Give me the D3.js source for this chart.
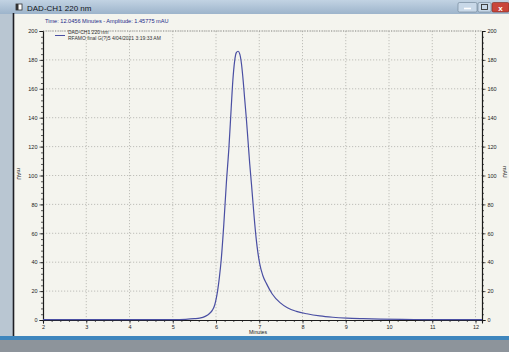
<!DOCTYPE html>
<html><head><meta charset="utf-8">
<script src="https://cdn.jsdelivr.net/npm/d3@7"></script>
<style>html,body{margin:0;padding:0;background:#c9d3dc;}svg{display:block;font-family:"Liberation Sans",Arial,sans-serif;}</style>
</head><body>
<svg id="c" width="509" height="352"></svg>
<script>
const times = [2.0, 3.0, 4.0, 5.0, 5.3, 5.5, 5.62, 5.75, 5.85, 5.92, 5.97, 6.04, 6.08, 6.12, 6.18, 6.24, 6.30, 6.35, 6.39, 6.43, 6.47, 6.51, 6.55, 6.59, 6.63, 6.66, 6.70, 6.74, 6.78, 6.82, 6.88, 6.93, 7.01, 7.08, 7.17, 7.3, 7.48, 7.65, 7.86, 8.1, 8.4, 8.7, 9.02, 9.4, 9.8, 10.3, 10.8, 11.3, 11.8, 12.15];
const absorb = [0.3, 0.2, 0.2, 0.3, 0.5, 0.9, 1.3, 2.5, 4.5, 7, 10.4, 20.8, 30, 41.5, 66, 95, 120, 146, 166, 179, 185, 186, 184, 177, 165, 154, 140, 124, 108, 94, 72, 56, 39, 31, 25, 18, 12, 8.5, 6, 4.3, 2.8, 1.9, 1.3, 0.9, 0.6, 0.4, 0.3, 0.25, 0.2, 0.2];
const xTicks = [2,3,4,5,6,7,8,9,10,11,12];
const yTicks = [0,20,40,60,80,100,120,140,160,180,200];
const windowTitle = "DAD-CH1  220 nm";
const statusText = "Time:  12.0456 Minutes - Amplitude:  1.45775 mAU";
const legendLines = ["DAD-CH1  220 nm", "RFAMO final G(?)5 4/04/2021 3:19:33 AM"];

const svg = d3.select("#c");
const defs = svg.append("defs");
const g1 = defs.append("linearGradient").attr("id","tb").attr("x1",0).attr("y1",0).attr("x2",0).attr("y2",1);
g1.append("stop").attr("offset","0").attr("stop-color","#c2d3e3");
g1.append("stop").attr("offset","1").attr("stop-color","#9db4cb");

// window chrome
svg.append("rect").attr("x",0).attr("y",0).attr("width",509).attr("height",352).attr("fill","#b9c6d2");
svg.append("rect").attr("x",0).attr("y",0).attr("width",509).attr("height",14).attr("fill","url(#tb)");
svg.append("rect").attr("x",14).attr("y",14).attr("width",495).attr("height",323).attr("fill","#f4f4ee");
svg.append("line").attr("x1",13.5).attr("x2",13.5).attr("y1",13).attr("y2",337).attr("stroke","#1e1e24").attr("stroke-width",1.6);
svg.append("rect").attr("x",0).attr("y",336).attr("width",509).attr("height",4).attr("fill","#3f86bd");
svg.append("rect").attr("x",0).attr("y",340).attr("width",509).attr("height",12).attr("fill","#8d949b");
// icon + title
svg.append("rect").attr("x",16).attr("y",4).attr("width",6).attr("height",6).attr("fill","#fff").attr("stroke","#333").attr("stroke-width",0.8);
svg.append("rect").attr("x",16).attr("y",4).attr("width",2.5).attr("height",6).attr("fill","#333");
svg.append("text").attr("x",27).attr("y",10.5).attr("font-size",8).attr("fill","#10141a").text(windowTitle);
// buttons
svg.append("rect").attr("x",458).attr("y",2.5).attr("width",19).attr("height",9.5).attr("rx",1.5).attr("fill","#c8d8e8").attr("stroke","#6c7f92").attr("stroke-width",0.6);
svg.append("line").attr("x1",464).attr("x2",471).attr("y1",8.5).attr("y2",8.5).attr("stroke","#fff").attr("stroke-width",1.6);
svg.append("rect").attr("x",478).attr("y",2.5).attr("width",13).attr("height",9.5).attr("rx",1.5).attr("fill","#c8d8e8").attr("stroke","#6c7f92").attr("stroke-width",0.6);
svg.append("rect").attr("x",481.5).attr("y",4.5).attr("width",6).attr("height",5).attr("fill","none").attr("stroke","#333").attr("stroke-width",0.9);
svg.append("rect").attr("x",492).attr("y",2.5).attr("width",17).attr("height",9.5).attr("rx",1.5).attr("fill","#c9453a").attr("stroke","#7a2a22").attr("stroke-width",0.6);
svg.append("text").attr("x",500.5).attr("y",10.5).attr("text-anchor","middle").attr("font-size",8).attr("font-weight","bold").attr("fill","#fff").text("x");

svg.append("text").attr("x",45).attr("y",22.5).attr("font-size",5.6).attr("fill","#1c2a88").text(statusText);

const L=43, R=482, T=31, B=320;
const x = d3.scaleLinear().domain([2,12.15]).range([L,R]);
const y = d3.scaleLinear().domain([0,200]).range([B,T]);

// grid
const grid = svg.append("g").attr("stroke","#a9a9a4").attr("stroke-width",0.7).attr("stroke-dasharray","1.2,1.8");
xTicks.forEach(v=>{ if(v>2) grid.append("line").attr("x1",x(v)).attr("x2",x(v)).attr("y1",T).attr("y2",B); });
yTicks.forEach(v=>{ if(v>0) grid.append("line").attr("x1",L).attr("x2",R).attr("y1",y(v)).attr("y2",y(v)); });

// axes
const minorX = d3.range(2,12.15,0.2);
const minorY = d3.range(0,201,4);
const fmt = d=>String(d);
svg.append("g").attr("transform",`translate(0,${B})`).call(d3.axisBottom(x).tickValues(minorX).tickSize(2).tickFormat(""));
svg.append("g").attr("transform",`translate(0,${B})`).call(d3.axisBottom(x).tickValues(xTicks).tickSize(3.5).tickPadding(2).tickFormat(fmt));
svg.append("g").attr("transform",`translate(${L},0)`).call(d3.axisLeft(y).tickValues(minorY).tickSize(2).tickFormat(""));
svg.append("g").attr("transform",`translate(${L},0)`).call(d3.axisLeft(y).tickValues(yTicks).tickSize(3.5).tickPadding(2).tickFormat(fmt));
svg.append("g").attr("transform",`translate(${R},0)`).call(d3.axisRight(y).tickValues(minorY).tickSize(2).tickFormat(""));
svg.append("g").attr("transform",`translate(${R},0)`).call(d3.axisRight(y).tickValues(yTicks).tickSize(3.5).tickPadding(2).tickFormat(fmt));
svg.selectAll(".domain").attr("stroke","#1a1a1a").attr("stroke-width",1.1);
svg.selectAll(".tick line").attr("stroke","#1a1a1a").attr("stroke-width",0.7);
svg.selectAll(".tick text").attr("font-size",5.5).attr("fill","#222").attr("font-family","Liberation Sans, Arial, sans-serif");
svg.append("line").attr("x1",L).attr("x2",R).attr("y1",T).attr("y2",T).attr("stroke","#8a8a86").attr("stroke-width",0.8).attr("stroke-dasharray","1.2,1.2");

svg.append("text").attr("x",258).attr("y",334).attr("text-anchor","middle").attr("font-size",5.2).attr("fill","#222").text("Minutes");
svg.append("text").attr("transform","translate(17,174) rotate(90)").attr("text-anchor","middle").attr("font-size",5.2).attr("fill","#222").text("mAU");
svg.append("text").attr("transform","translate(503,172) rotate(90)").attr("text-anchor","middle").attr("font-size",5.2).attr("fill","#222").text("mAU");

// legend
svg.append("line").attr("x1",55).attr("x2",65).attr("y1",35.5).attr("y2",35.5).attr("stroke","#4a4fa3").attr("stroke-width",1);
svg.append("text").attr("x",68).attr("y",34).attr("font-size",5).attr("fill","#333").text(legendLines[0]);
svg.append("text").attr("x",68).attr("y",40).attr("font-size",5).attr("fill","#333").text(legendLines[1]);

// trace
const line = d3.line().x((d,i)=>x(times[i])).y(d=>y(d)).curve(d3.curveMonotoneX);
svg.append("path").datum(absorb).attr("d",line).attr("fill","none").attr("stroke","#4a4fa3").attr("stroke-width",1.2);
</script>
</body></html>
